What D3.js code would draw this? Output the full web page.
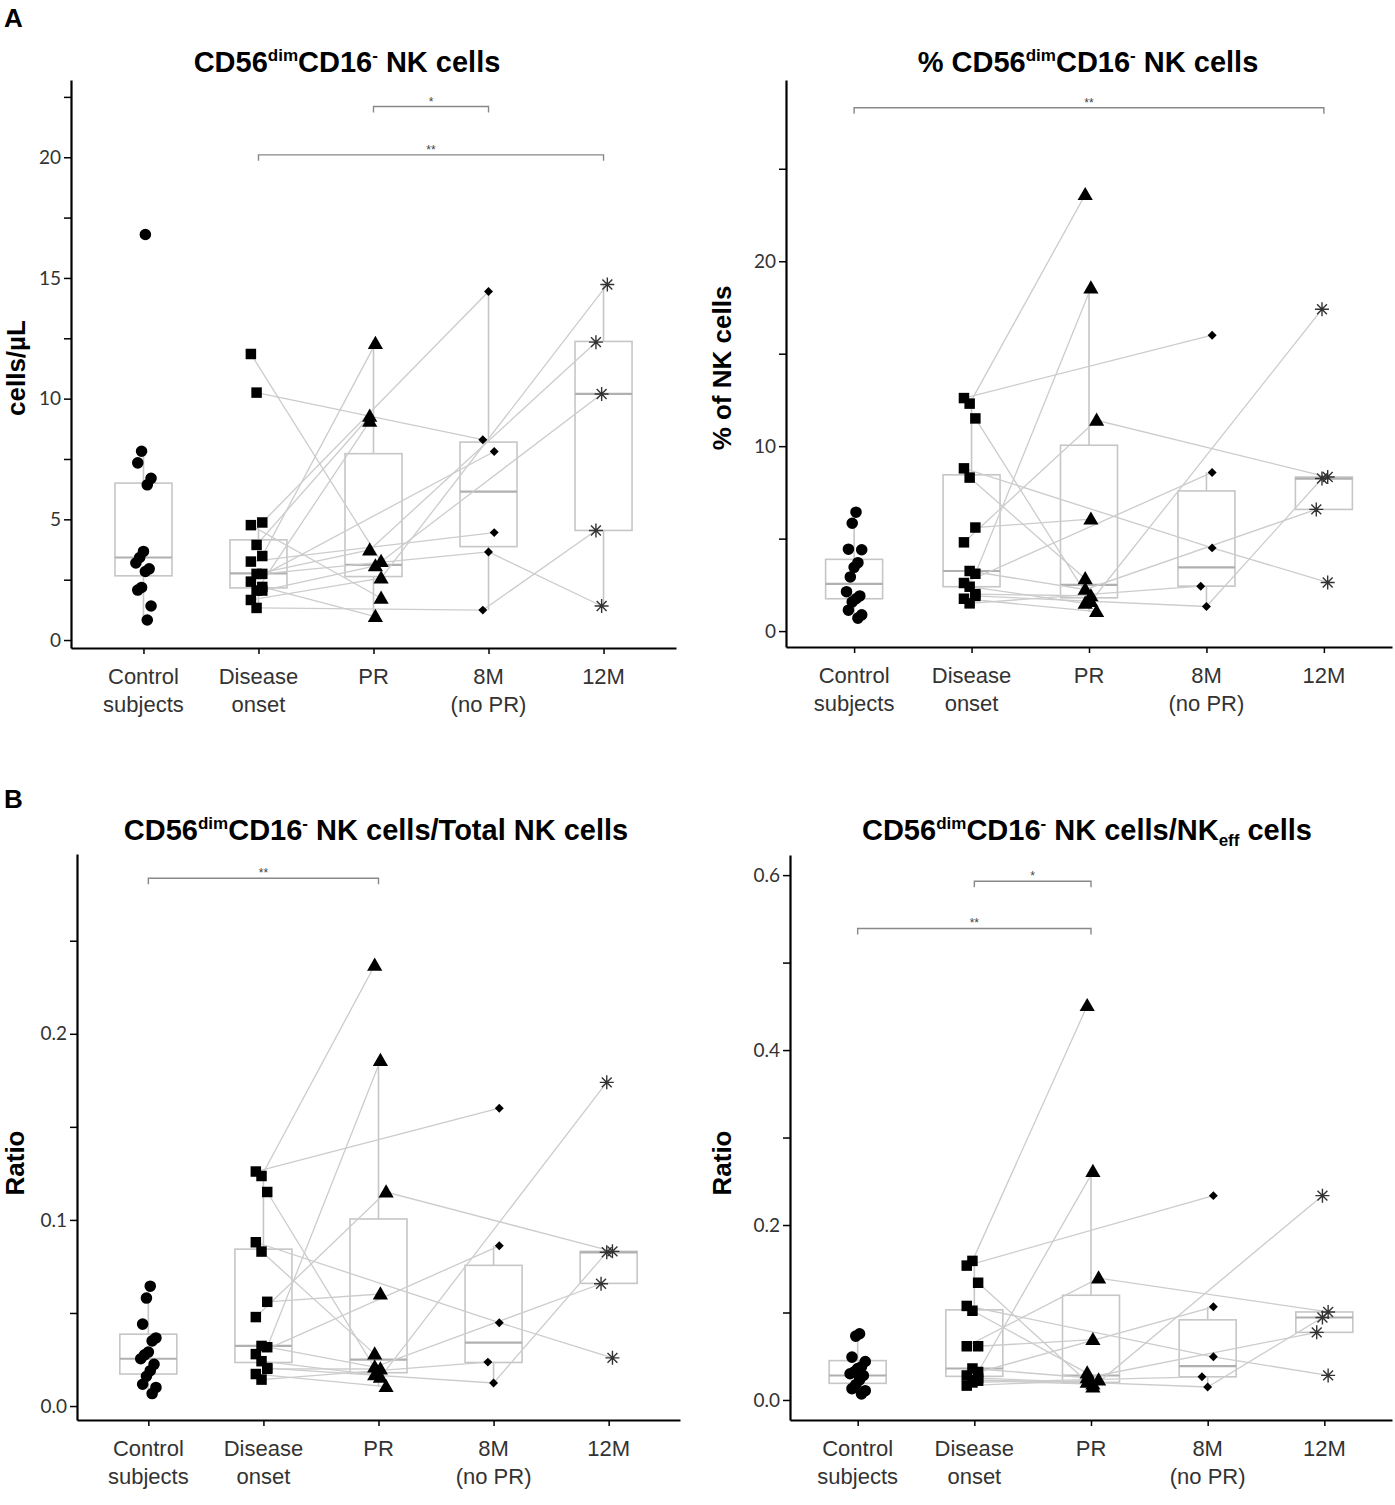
<!DOCTYPE html>
<html><head><meta charset="utf-8">
<script src="https://cdnjs.cloudflare.com/ajax/libs/d3/7.8.5/d3.min.js"></script>
<style>body{margin:0;background:#fff}</style>
</head><body>
<script>
// ---------- shared categories ----------
const categories = ["Control subjects", "Disease onset", "PR", "8M (no PR)", "12M"];
const categoryLines = [["Control", "subjects"], ["Disease", "onset"], ["PR"], ["8M", "(no PR)"], ["12M"]];
const stageNames = ["Disease onset", "PR", "8M (no PR)", "12M"];

// ---------- Panel A (left): cells/µL ----------
const a1Controls = [16.8, 7.82, 7.34, 6.7, 6.43, 3.67, 3.42, 3.19, 2.95, 2.84, 2.18, 2.07, 1.41, 0.83];
// per patient: [Disease onset, PR, 8M, 12M]
const a1Patients = [
  [11.85, 3.25, null, null], [10.25, null, 8.30, null], [4.87, null, 14.44, null],
  [4.76, 1.73, null, null], [3.94, 9.27, null, null], [3.48, 12.28, null, null],
  [3.25, null, 4.45, null], [2.74, 3.73, null, 12.34], [2.74, null, 3.65, 1.41],
  [2.42, null, 7.81, null], [2.05, 9.06, null, null], [2.05, 3.07, null, 10.19],
  [1.66, 2.56, null, 14.73], [1.33, null, 1.24, 4.54], [2.2, 0.97, null, null]
];
// [q1, median, q3, whiskerLow, whiskerHigh]
const a1Boxes = [[2.66, 3.42, 6.5, 0.83, 7.82], [2.16, 2.76, 4.15, 1.33, 4.87], [2.63, 3.11, 7.72, 0.97, 12.28],
  [3.87, 6.15, 8.2, 1.24, 14.44], [4.54, 10.2, 12.37, 1.41, 14.73]];
const a1Brackets = [[2, 3, "*", 22.1], [1, 4, "**", 20.1]];
const a1Major = [0, 5, 10, 15, 20];
const a1Minor = [2.5, 7.5, 12.5, 17.5, 22.5];

// ---------- Panel A (right): % of NK cells ----------
const a2Controls = [6.43, 5.83, 4.43, 4.40, 3.7, 3.45, 2.93, 2.13, 1.9, 1.75, 1.58, 1.13, 0.88, 0.7];
const a2Patients = [
  [12.6, null, 16.0, null], [12.3, 23.6, null, null], [11.5, 1.6, null, 17.4],
  [8.8, null, 4.5, 2.63], [8.3, 2.83, null, null], [5.6, 6.05, null, null],
  [4.8, 11.4, null, 8.33], [3.25, 2.25, null, 6.58], [3.1, 18.55, null, null],
  [2.6, null, 8.58, null], [2.4, 1.5, null, null], [1.9, null, 1.33, 8.25],
  [1.75, 1.05, null, null], [1.5, null, 2.43, null], [2.0, 1.9, null, null]
];
const a2Boxes = [[1.75, 2.55, 3.88, 0.7, 6.43], [2.4, 3.25, 8.45, 1.5, 12.6], [1.8, 2.5, 10.05, 1.05, 18.55],
  [2.43, 3.45, 7.58, 1.33, 8.58], [6.58, 8.25, 8.33, 6.58, 8.33]];
const a2Brackets = [[0, 4, "**", 28.3]];
const a2Major = [0, 10, 20];
const a2Minor = [5, 15, 25];

// ---------- Panel B (left): ratio to total NK ----------
const b1Controls = [0.0644, 0.058, 0.044, 0.0366, 0.035, 0.029, 0.0275, 0.0254, 0.0224, 0.019, 0.016, 0.0117, 0.010, 0.0067];
const b1Patients = [
  [0.126, null, 0.160, null], [0.1236, 0.2368, null, null], [0.115, 0.0154, null, 0.1739],
  [0.088, null, 0.0448, 0.0259], [0.083, 0.0279, null, null], [0.056, 0.0602, null, null],
  [0.0478, 0.115, null, 0.0831], [0.0323, 0.0209, null, 0.0657], [0.0316, 0.1856, null, null],
  [0.0279, null, 0.0861, null], [0.0241, 0.0167, null, null], [0.0204, null, 0.0124, 0.0826],
  [0.0172, 0.0104, null, null], [0.0142, null, 0.0236, null], [0.02, 0.0199, null, null]
];
const b1Boxes = [[0.0172, 0.0254, 0.0386, 0.0067, 0.0644], [0.0234, 0.0323, 0.0843, 0.0142, 0.126],
  [0.0179, 0.0249, 0.1005, 0.0104, 0.1856], [0.0234, 0.0341, 0.0756, 0.0124, 0.0861], [0.0659, 0.0826, 0.0831, 0.0659, 0.0831]];
const b1Brackets = [[0, 2, "**", 0.2836]];
const b1Major = [0, 0.1, 0.2];
const b1Minor = [0.05, 0.15, 0.25];

// ---------- Panel B (right): ratio to NKeff ----------
const b2Controls = [0.0757, 0.073, 0.049, 0.044, 0.038, 0.036, 0.032, 0.030, 0.028, 0.023, 0.0175, 0.013, 0.0106, 0.0069];
const b2Patients = [
  [0.1536, null, 0.2336, null], [0.159, 0.4507, null, null], [0.134, 0.0148, null, 0.2336],
  [0.1075, null, 0.0493, 0.0281], [0.102, 0.0307, null, null], [0.0614, 0.0689, null, null],
  [0.0614, 0.1393, null, 0.1006], [0.036, 0.0254, null, 0.0773], [0.032, 0.2611, null, null],
  [0.028, null, 0.1065, null], [0.0228, 0.0201, null, null], [0.025, null, 0.0148, 0.0943],
  [0.0164, 0.0228, null, null], [0.02, null, 0.0265, null], [0.022, 0.018, null, null]
];
const b2Boxes = [[0.019, 0.028, 0.045, 0.0069, 0.0757], [0.027, 0.036, 0.103, 0.0164, 0.159],
  [0.0201, 0.028, 0.1197, 0.0148, 0.2611], [0.0265, 0.0387, 0.0916, 0.0148, 0.1065], [0.0773, 0.0943, 0.1006, 0.0773, 0.1006]];
const b2Brackets = [[1, 2, "*", 0.593], [0, 2, "**", 0.539]];
const b2Major = [0, 0.2, 0.4, 0.6];
const b2Minor = [0.1, 0.3, 0.5];

// ---------- titles ----------
const a1Title = [["CD56", 0], ["dim", 1], ["CD16", 0], ["-", 1], [" NK cells", 0]];
const a2Title = [["% CD56", 0], ["dim", 1], ["CD16", 0], ["-", 1], [" NK cells", 0]];
const b1Title = [["CD56", 0], ["dim", 1], ["CD16", 0], ["-", 1], [" NK cells/Total NK cells", 0]];
const b2Title = [["CD56", 0], ["dim", 1], ["CD16", 0], ["-", 1], [" NK cells/NK", 0], ["eff", -1], [" cells", 0]];

// ---------- layout ----------
const panels = [
  {title: a1Title, yLabel: "cells/µL", controls: a1Controls, patients: a1Patients, boxes: a1Boxes, brackets: a1Brackets,
   major: a1Major, minor: a1Minor, fmt: d3.format("d"), domain: [-0.33, 23.2],
   axisX: 71, right: 676, top: 80, bottom: 648, pad: 0.63, titleX: 347, titleY: 72, yLabX: 25, yLabY: 368},
  {title: a2Title, yLabel: "% of NK cells", controls: a2Controls, patients: a2Patients, boxes: a2Boxes, brackets: a2Brackets,
   major: a2Major, minor: a2Minor, fmt: d3.format("d"), domain: [-0.86, 29.8],
   axisX: 786, right: 1392, top: 80, bottom: 647, pad: 0.58, titleX: 1088, titleY: 72, yLabX: 731, yLabY: 368},
  {title: b1Title, yLabel: "Ratio", controls: b1Controls, patients: b1Patients, boxes: b1Boxes, brackets: b1Brackets,
   major: b1Major, minor: b1Minor, fmt: d3.format(".1f"), domain: [-0.0075, 0.2966],
   axisX: 77, right: 680, top: 854, bottom: 1420, pad: 0.62, titleX: 376, titleY: 840, yLabX: 24, yLabY: 1163},
  {title: b2Title, yLabel: "Ratio", controls: b2Controls, patients: b2Patients, boxes: b2Boxes, brackets: b2Brackets,
   major: b2Major, minor: b2Minor, fmt: d3.format(".1f"), domain: [-0.0229, 0.623],
   axisX: 790, right: 1392, top: 855, bottom: 1420, pad: 0.58, titleX: 1087, titleY: 840, yLabX: 731, yLabY: 1163}
];

const W = 1395, H = 1505;
const svg = d3.select("body").append("svg").attr("width", W).attr("height", H)
  .style("font-family", "'Liberation Sans', Arial, sans-serif");

svg.append("text").attr("x", 4).attr("y", 27).attr("font-size", 26).attr("font-weight", "bold").text("A");
svg.append("text").attr("x", 4).attr("y", 808).attr("font-size", 26).attr("font-weight", "bold").text("B");

const jit = i => ((i * 7) % 9 - 4) * 1.9;
const BOX_W = 57;
const boxColor = "#c6c6c6", lineColor = "#cccccc";

const symCircle = d3.symbol(d3.symbolCircle, 105)();
const symSquare = d3.symbol(d3.symbolSquare, 110)();
const symTri = d3.symbol(d3.symbolTriangle, 100)();
const symDiamond = d3.symbol(d3.symbolSquare, 40)();
const astR = 7;
const symAst = [0, 45, 90, 135].map(a => {
  const r = a * Math.PI / 180, dx = Math.cos(r) * astR, dy = Math.sin(r) * astR;
  return `M${-dx},${-dy}L${dx},${dy}`;
}).join("");

panels.forEach(p => {
  const g = svg.append("g");
  const x = d3.scalePoint().domain(categories).range([p.axisX, p.right]).padding(p.pad);
  const y = d3.scaleLinear().domain(p.domain).range([p.bottom, p.top]);

  // title
  const t = g.append("text").attr("x", p.titleX).attr("y", p.titleY).attr("text-anchor", "middle")
    .attr("font-size", 29).attr("font-weight", "bold").attr("fill", "#000");
  let prev = 0;
  p.title.forEach(([s, kind]) => {
    const off = kind === 1 ? -11 : kind === -1 ? 6 : 0;
    t.append("tspan").attr("dy", off - prev).attr("font-size", kind === 0 ? 29 : 17).text(s);
    prev = off;
  });

  // y label
  g.append("text").attr("transform", `translate(${p.yLabX},${p.yLabY}) rotate(-90)`)
    .attr("text-anchor", "middle").attr("font-size", 26).attr("font-weight", "bold").text(p.yLabel);

  // boxes
  p.boxes.forEach((b, i) => {
    const cx = x(categories[i]);
    const [q1, med, q3, lo, hi] = b;
    g.append("line").attr("x1", cx).attr("x2", cx).attr("y1", y(q3)).attr("y2", y(hi))
      .attr("stroke", boxColor).attr("stroke-width", 1.6);
    g.append("line").attr("x1", cx).attr("x2", cx).attr("y1", y(q1)).attr("y2", y(lo))
      .attr("stroke", boxColor).attr("stroke-width", 1.6);
    g.append("rect").attr("x", cx - BOX_W / 2).attr("width", BOX_W).attr("y", y(q3)).attr("height", y(q1) - y(q3))
      .attr("fill", "none").attr("stroke", boxColor).attr("stroke-width", 1.6);
    g.append("line").attr("x1", cx - BOX_W / 2).attr("x2", cx + BOX_W / 2).attr("y1", y(med)).attr("y2", y(med))
      .attr("stroke", "#b0b0b0").attr("stroke-width", 2.2);
  });

  // patient lines
  const pos = (pi, s, v) => [x(stageNames[s]) + jit(pi * 3 + s * 5), y(v)];
  p.patients.forEach((pt, pi) => {
    const pts = [];
    pt.forEach((v, s) => { if (v !== null) pts.push(pos(pi, s, v)); });
    g.append("path").attr("d", d3.line()(pts)).attr("fill", "none")
      .attr("stroke", lineColor).attr("stroke-width", 1.3);
  });

  // brackets
  p.brackets.forEach(([a, b, lab, v]) => {
    const x1 = x(categories[a]), x2 = x(categories[b]), yy = y(v);
    g.append("path").attr("d", `M${x1},${yy + 6}L${x1},${yy}L${x2},${yy}L${x2},${yy + 6}`)
      .attr("fill", "none").attr("stroke", "#888").attr("stroke-width", 1.4);
    g.append("text").attr("x", (x1 + x2) / 2).attr("y", yy - 1).attr("text-anchor", "middle")
      .attr("font-size", 12).attr("fill", "#444").text(lab);
  });

  // control points
  p.controls.forEach((v, i) => {
    g.append("path").attr("d", symCircle).attr("fill", "#000")
      .attr("transform", `translate(${x(categories[0]) + jit(i + 2)},${y(v)})`);
  });
  // patient points
  p.patients.forEach((pt, pi) => {
    pt.forEach((v, s) => {
      if (v === null) return;
      const [px, py] = pos(pi, s, v);
      if (s === 0) g.append("path").attr("d", symSquare).attr("fill", "#000").attr("transform", `translate(${px},${py})`);
      else if (s === 1) g.append("path").attr("d", symTri).attr("fill", "#000").attr("transform", `translate(${px},${py + 1})`);
      else if (s === 2) g.append("path").attr("d", symDiamond).attr("fill", "#000").attr("transform", `translate(${px},${py}) rotate(45)`);
      else g.append("path").attr("d", symAst).attr("fill", "none").attr("stroke", "#333").attr("stroke-width", 1.4)
        .attr("transform", `translate(${px},${py})`);
    });
  });

  // y axis
  const allTicks = p.major.concat(p.minor).sort((a, b) => a - b);
  const isMajor = d => p.major.some(m => Math.abs(m - d) < 1e-9);
  const ya = g.append("g").attr("transform", `translate(${p.axisX},0)`)
    .call(d3.axisLeft(y).tickValues(allTicks).tickSize(7).tickSizeOuter(0).tickFormat(d => isMajor(d) ? p.fmt(d) : ""));
  ya.select(".domain").attr("stroke", "#000").attr("stroke-width", 2.2);
  ya.selectAll(".tick line").attr("stroke", "#000").attr("stroke-width", 1.5);
  ya.selectAll(".tick text").attr("font-family", "Lato, 'Open Sans', sans-serif").attr("font-size", 19)
    .attr("fill", "#333").attr("x", -10);

  // x axis
  const xa = g.append("g").attr("transform", `translate(0,${p.bottom})`)
    .call(d3.axisBottom(x).tickSize(6).tickSizeOuter(0).tickFormat(""));
  xa.select(".domain").attr("stroke", "#000").attr("stroke-width", 2.2);
  xa.selectAll(".tick line").attr("stroke", "#000").attr("stroke-width", 1.5);

  categories.forEach((c, i) => {
    const tx = g.append("text").attr("x", x(c)).attr("y", p.bottom + 36).attr("text-anchor", "middle")
      .attr("font-size", 22).attr("fill", "#333");
    categoryLines[i].forEach((ln, k) => {
      tx.append("tspan").attr("x", x(c)).attr("dy", k === 0 ? 0 : 28).text(ln);
    });
  });
});
</script>
</body></html>
